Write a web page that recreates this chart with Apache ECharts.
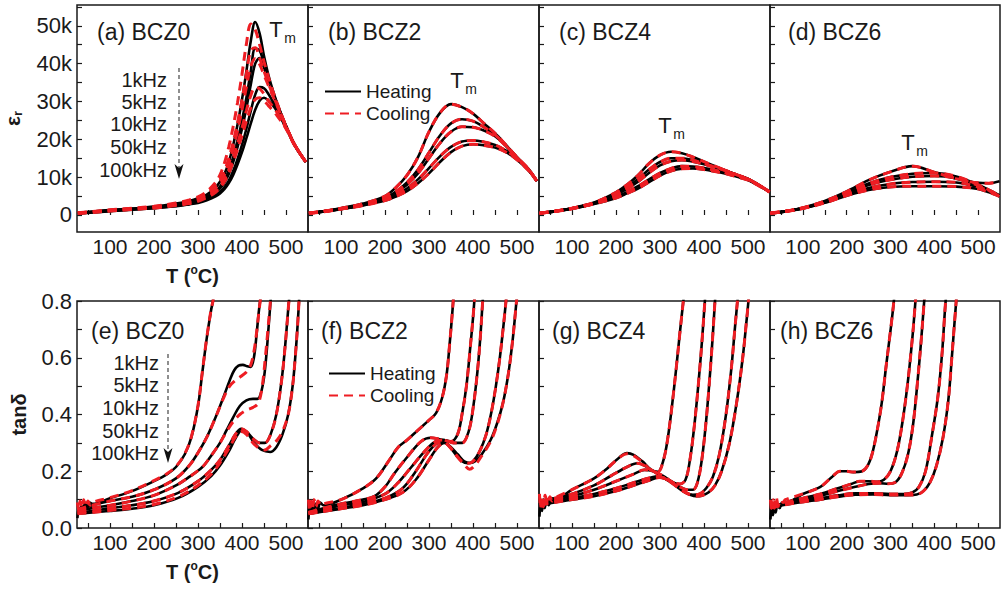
<!DOCTYPE html>
<html>
<head>
<meta charset="utf-8">
<script src="https://cdn.jsdelivr.net/npm/echarts@6.0.0/dist/echarts.min.js"></script>
<style>
html,body{margin:0;padding:0;background:#fff}
#chart{width:1001px;height:594px}
</style>
</head>
<body>
<div id="chart"></div>
<script>
// ---- permittivity (eps_r, in thousands) : shared temperature grid per panel ----
var tA = [27,60,100,150,200,250,280,300,320,340,350,360,370,380,390,400,410,420,430,440,450,460,470,480,500,520,545];
var aH1k   = [0.6,0.9,1.3,1.7,2.2,3.0,3.7,4.4,5.4,7.3,8.8,10.8,14,18.5,24,30.5,38,46,51,48,42,37,33,29.5,23.5,18.5,14];
var aH5k   = [0.5,0.8,1.2,1.6,2.0,2.7,3.3,3.9,4.8,6.3,7.5,9.2,11.8,15.3,19.8,25,31,38,44,43.5,40,36,32.5,29.3,23.5,18.5,14];
var aH10k  = [0.5,0.8,1.15,1.55,1.95,2.6,3.2,3.7,4.5,5.9,7.0,8.5,10.8,14,18,22.8,28.3,34.5,40,41.5,39,35.5,32.2,29.2,23.5,18.5,14];
var aH50k  = [0.4,0.7,1.05,1.45,1.85,2.4,2.9,3.4,4.1,5.2,6.1,7.3,9.1,11.6,14.8,18.5,22.8,27.5,31.8,33.8,33.5,32,30,28,23.2,18.4,14];
var aH100k = [0.4,0.65,1.0,1.4,1.8,2.3,2.8,3.2,3.9,4.9,5.7,6.8,8.4,10.6,13.4,16.6,20.3,24.2,27.8,30.2,31,30.3,29,27.3,23,18.3,14];
var aC1k   = [0.6,0.9,1.35,1.8,2.3,3.2,4.0,4.8,6.2,8.6,10.6,13.7,18,23.4,29.8,37.2,45.2,50.5,49,45,40.5,36.5,32.8,29.5,23.5,18.5,14];
var aC5k   = [0.5,0.85,1.25,1.65,2.1,2.9,3.7,4.6,5.7,7.8,9.3,11.6,15,19.3,24.5,30.4,37.3,43.5,44.2,41.5,38,34.8,31.8,29,23.5,18.5,14];
var aC10k  = [0.5,0.8,1.2,1.6,2.0,2.8,3.5,4.3,5.4,7.2,8.6,10.6,13.6,17.6,22.3,27.8,33.8,39.3,41.3,39.8,37,34.2,31.5,28.8,23.4,18.5,14];
var aC50k  = [0.45,0.75,1.1,1.5,1.9,2.6,3.2,3.9,4.9,6.4,7.7,9.4,11.9,15.2,18.9,23,27.6,31.6,33.7,33.4,32,30.2,28.6,27,23,18.4,14];
var aC100k = [0.4,0.7,1.05,1.45,1.85,2.5,3.0,3.6,4.6,6.0,7.2,8.8,11,14,17.3,21,24.8,28.3,30.5,31,30.2,28.9,27.6,26.2,22.8,18.3,14];

var tB = [27,60,100,150,200,225,250,275,300,325,350,375,400,425,450,475,500,525,545];
var bH1k   = [0.5,1.0,1.8,3.0,5.0,7.3,10.5,15.3,22,27,29.3,28.5,26.8,24.2,21.6,18.5,15.3,12.3,9];
var bH5k   = [0.5,0.95,1.7,2.8,4.5,6.2,8.6,12,16.5,21,24.2,25.3,24.8,23.2,21.2,18.3,15.2,12.2,9];
var bH10k  = [0.45,0.9,1.65,2.7,4.3,5.9,8.0,11,15,19,22,23.3,23.2,22.3,20.8,18.2,15.1,12.2,9];
var bH50k  = [0.45,0.9,1.6,2.6,4.0,5.3,7.0,9.4,12.4,15.5,18,19.4,19.7,19.3,18.5,17,14.8,12,9];
var bH100k = [0.45,0.85,1.55,2.5,3.8,4.9,6.3,8.4,11,14,16.6,18.2,18.7,18.4,17.8,16.6,14.6,11.9,9];

var tC = [26,60,100,150,200,225,250,275,300,325,350,375,400,425,450,475,500,525,549];
var cH1k   = [0.45,1.0,1.8,3.3,6.0,8.0,10.5,13.6,15.8,16.7,16.3,15.3,14.1,12.9,11.7,10.6,9.5,7.9,6.1];
var cH5k   = [0.45,1.0,1.75,3.2,5.6,7.3,9.5,12.0,14.0,15.0,15.0,14.5,13.6,12.7,11.7,10.6,9.5,7.9,6.1];
var cH10k  = [0.45,0.95,1.7,3.1,5.3,6.9,8.8,11.1,13.1,14.2,14.5,14.1,13.4,12.6,11.7,10.6,9.5,7.9,6.1];
var cH50k  = [0.45,0.95,1.7,3.0,4.8,6.1,7.6,9.4,11.1,12.3,12.9,12.8,12.4,11.8,11.1,10.3,9.3,7.8,6.1];
var cH100k = [0.45,0.9,1.65,2.9,4.5,5.7,7.0,8.7,10.4,11.6,12.2,12.3,12.0,11.5,10.9,10.1,9.2,7.7,6.1];

var tD = [26,60,100,150,200,250,300,350,400,450,500,525,549];
var dH1k   = [0.45,1.0,1.9,3.7,6.2,9.2,11.4,12.9,11.3,9.6,8.5,8.4,8.9];
var dH5k   = [0.45,1.0,1.85,3.5,5.8,8.3,10.0,10.9,11.1,10.2,8.0,6.6,5.2];
var dH10k  = [0.45,0.95,1.8,3.4,5.6,7.9,9.3,10.1,10.3,9.7,7.8,6.5,5.1];
var dH50k  = [0.45,0.95,1.75,3.3,5.3,7.1,8.2,8.7,8.8,8.6,7.4,6.3,5.0];
var dH100k = [0.45,0.9,1.7,3.2,5.1,6.6,7.4,7.6,7.6,7.5,6.9,6.0,4.9];

// ---- loss tangent : [T, tan d] per curve ----
var eH1k = [[26,0.035],[29,0.07],[32,0.05],[35,0.08],[39,0.06],[43,0.09],[48,0.07],[54,0.09],[60,0.085],[100,0.105],[150,0.13],[200,0.165],[230,0.19],[250,0.215],[270,0.26],[285,0.32],[300,0.43],[310,0.55],[320,0.67],[330,0.77],[334,0.8],[340,0.88]];
var eC1k = [[26,0.09],[29,0.06],[32,0.095],[36,0.07],[40,0.1],[45,0.075],[50,0.095],[55,0.08],[60,0.09],[100,0.107],[150,0.132],[200,0.167],[230,0.192],[250,0.217],[270,0.262],[285,0.322],[300,0.432],[310,0.552],[320,0.672],[330,0.772],[334,0.8],[340,0.88]];
var eH5k = [[26,0.065],[60,0.08],[100,0.095],[150,0.11],[200,0.135],[250,0.175],[280,0.22],[300,0.265],[320,0.32],[340,0.39],[360,0.47],[372,0.52],[382,0.555],[392,0.572],[402,0.575],[412,0.57],[420,0.568],[427,0.6],[433,0.68],[438,0.76],[443,0.82]];
var eC5k = [[26,0.065],[60,0.08],[100,0.095],[150,0.11],[200,0.135],[250,0.175],[280,0.22],[300,0.265],[320,0.32],[340,0.39],[360,0.465],[372,0.5],[385,0.52],[398,0.535],[410,0.55],[420,0.575],[428,0.63],[434,0.7],[439,0.77],[443,0.82]];
var eH10k = [[26,0.06],[60,0.07],[100,0.08],[150,0.095],[200,0.115],[250,0.15],[280,0.18],[310,0.215],[330,0.255],[350,0.3],[365,0.345],[380,0.39],[395,0.43],[410,0.45],[425,0.455],[435,0.455],[442,0.47],[450,0.53],[456,0.62],[461,0.72],[465,0.8],[468,0.86]];
var eC10k = [[26,0.06],[60,0.07],[100,0.08],[150,0.095],[200,0.115],[250,0.15],[280,0.18],[310,0.215],[330,0.255],[350,0.3],[365,0.34],[380,0.375],[395,0.4],[410,0.415],[425,0.425],[437,0.44],[446,0.5],[453,0.6],[459,0.7],[464,0.79],[468,0.86]];
var eH50k = [[26,0.055],[60,0.06],[100,0.07],[150,0.08],[200,0.095],[255,0.124],[300,0.165],[330,0.205],[350,0.24],[370,0.29],[385,0.33],[398,0.35],[410,0.34],[425,0.315],[440,0.3],[452,0.3],[465,0.33],[478,0.4],[490,0.52],[498,0.64],[505,0.77],[509,0.84]];
var eH100k = [[26,0.05],[60,0.055],[100,0.06],[150,0.068],[200,0.08],[255,0.106],[300,0.145],[330,0.183],[350,0.22],[370,0.27],[385,0.315],[400,0.345],[412,0.335],[428,0.3],[445,0.275],[464,0.268],[478,0.285],[492,0.33],[505,0.4],[515,0.5],[522,0.62],[527,0.73],[531,0.84]];
var eC100k = [[26,0.05],[60,0.055],[100,0.062],[150,0.07],[200,0.083],[255,0.11],[300,0.15],[330,0.19],[350,0.23],[370,0.28],[385,0.32],[398,0.34],[410,0.33],[425,0.3],[440,0.28],[452,0.275],[465,0.29],[480,0.31],[492,0.34],[505,0.4],[515,0.5],[522,0.62],[527,0.73],[531,0.84]];

var fH1k = [[26,0.03],[29,0.08],[32,0.05],[35,0.09],[38,0.06],[42,0.085],[47,0.065],[53,0.09],[60,0.08],[100,0.1],[150,0.14],[180,0.175],[210,0.24],[230,0.285],[250,0.31],[275,0.345],[300,0.38],[316,0.405],[330,0.46],[340,0.54],[347,0.65],[352,0.74],[356,0.82]];
var fC1k = [[26,0.1],[29,0.06],[32,0.095],[35,0.07],[39,0.1],[43,0.075],[48,0.095],[54,0.08],[60,0.085],[100,0.1],[150,0.14],[180,0.175],[210,0.24],[230,0.285],[250,0.31],[275,0.345],[300,0.38],[316,0.405],[330,0.46],[340,0.54],[347,0.65],[352,0.74],[356,0.82]];
var fH5k = [[26,0.055],[60,0.07],[100,0.085],[150,0.1],[176,0.112],[200,0.145],[222,0.194],[252,0.253],[282,0.305],[304,0.318],[327,0.312],[350,0.305],[365,0.33],[375,0.4],[385,0.5],[394,0.64],[400,0.74],[404,0.82]];
var fH10k = [[26,0.055],[60,0.065],[100,0.08],[150,0.092],[200,0.12],[230,0.16],[260,0.215],[290,0.27],[315,0.305],[335,0.31],[355,0.3],[375,0.3],[390,0.34],[400,0.42],[410,0.55],[417,0.68],[422,0.8],[425,0.86]];
var fH50k = [[26,0.05],[60,0.06],[100,0.07],[150,0.085],[200,0.105],[240,0.14],[270,0.2],[295,0.26],[315,0.295],[330,0.305],[345,0.29],[360,0.26],[375,0.235],[388,0.228],[400,0.235],[415,0.27],[430,0.33],[442,0.41],[452,0.5],[461,0.6],[469,0.71],[475,0.8],[478,0.85]];
var fH100k = [[26,0.05],[60,0.058],[100,0.068],[150,0.08],[200,0.1],[240,0.125],[270,0.17],[300,0.24],[320,0.285],[335,0.3],[350,0.285],[365,0.26],[380,0.235],[393,0.229],[405,0.235],[420,0.26],[440,0.31],[455,0.37],[468,0.44],[480,0.54],[490,0.66],[497,0.77],[502,0.85]];
var fC100k = [[26,0.05],[60,0.058],[100,0.068],[150,0.08],[200,0.1],[240,0.125],[270,0.17],[300,0.24],[320,0.285],[335,0.3],[350,0.28],[365,0.25],[380,0.223],[392,0.207],[405,0.222],[420,0.255],[440,0.305],[455,0.365],[468,0.44],[480,0.54],[490,0.66],[497,0.77],[502,0.85]];

var gH1k = [[26,0.04],[29,0.09],[32,0.06],[35,0.1],[38,0.07],[42,0.1],[47,0.08],[53,0.105],[60,0.1],[100,0.135],[150,0.175],[180,0.21],[205,0.245],[225,0.264],[240,0.258],[260,0.235],[280,0.205],[295,0.198],[308,0.24],[318,0.32],[328,0.44],[338,0.58],[346,0.7],[353,0.8],[357,0.86]];
var gC1k = [[26,0.12],[29,0.07],[32,0.11],[35,0.075],[39,0.115],[44,0.085],[50,0.11],[55,0.095],[60,0.105],[100,0.135],[150,0.175],[180,0.21],[205,0.245],[225,0.262],[240,0.255],[260,0.232],[280,0.203],[295,0.197],[308,0.24],[318,0.32],[328,0.44],[338,0.58],[346,0.7],[353,0.8],[357,0.86]];
var gH5k = [[26,0.095],[60,0.105],[100,0.12],[150,0.15],[190,0.185],[225,0.215],[248,0.228],[265,0.22],[285,0.2],[305,0.18],[325,0.163],[345,0.155],[358,0.17],[368,0.24],[378,0.36],[388,0.52],[396,0.67],[402,0.8],[405,0.86]];
var gH10k = [[26,0.09],[60,0.1],[100,0.112],[150,0.135],[200,0.165],[240,0.19],[265,0.205],[285,0.2],[305,0.185],[325,0.165],[345,0.145],[362,0.135],[375,0.135],[385,0.16],[395,0.24],[405,0.38],[414,0.55],[420,0.68],[425,0.8],[428,0.86]];
var gH50k = [[26,0.085],[60,0.095],[100,0.105],[150,0.12],[200,0.14],[250,0.165],[280,0.178],[295,0.182],[310,0.175],[330,0.155],[350,0.132],[365,0.12],[375,0.117],[390,0.12],[405,0.14],[420,0.18],[435,0.26],[450,0.4],[462,0.56],[470,0.7],[476,0.8],[479,0.86]];
var gH100k = [[26,0.08],[60,0.09],[100,0.1],[150,0.112],[200,0.13],[250,0.155],[280,0.17],[298,0.178],[315,0.172],[335,0.152],[355,0.128],[370,0.116],[382,0.112],[395,0.114],[410,0.125],[425,0.15],[440,0.2],[458,0.3],[475,0.45],[488,0.6],[496,0.72],[501,0.8],[504,0.86]];

var hH1k = [[26,0.03],[29,0.07],[32,0.045],[35,0.08],[38,0.055],[42,0.085],[47,0.07],[53,0.09],[60,0.09],[100,0.12],[140,0.145],[165,0.178],[185,0.2],[200,0.2],[215,0.197],[235,0.2],[248,0.22],[258,0.26],[268,0.33],[280,0.44],[290,0.57],[298,0.67],[305,0.76],[309,0.82]];
var hC1k = [[26,0.1],[29,0.06],[32,0.1],[35,0.07],[39,0.11],[44,0.08],[50,0.1],[55,0.09],[60,0.1],[100,0.12],[140,0.145],[165,0.178],[185,0.2],[200,0.2],[215,0.197],[235,0.2],[248,0.22],[258,0.26],[268,0.33],[280,0.44],[290,0.57],[298,0.67],[305,0.76],[309,0.82]];
var hH5k = [[26,0.07],[60,0.09],[100,0.105],[140,0.12],[180,0.14],[210,0.155],[230,0.165],[250,0.165],[270,0.163],[285,0.17],[300,0.2],[315,0.27],[328,0.38],[340,0.52],[350,0.67],[356,0.78],[359,0.84]];
var hH10k = [[26,0.07],[60,0.088],[100,0.1],[140,0.113],[180,0.13],[220,0.145],[250,0.155],[275,0.158],[295,0.156],[310,0.16],[325,0.19],[340,0.26],[352,0.37],[362,0.52],[370,0.66],[376,0.78],[379,0.84]];
var hH50k = [[26,0.07],[60,0.085],[100,0.095],[140,0.105],[180,0.115],[220,0.122],[260,0.122],[300,0.12],[330,0.12],[350,0.125],[365,0.145],[380,0.2],[394,0.32],[408,0.46],[418,0.62],[424,0.76],[428,0.84]];
var hH100k = [[26,0.07],[60,0.082],[100,0.092],[140,0.1],[180,0.11],[220,0.117],[260,0.118],[300,0.116],[340,0.116],[360,0.118],[375,0.13],[390,0.16],[405,0.22],[420,0.32],[432,0.45],[440,0.6],[446,0.72],[450,0.8],[452,0.85]];

var FONT = '"Liberation Sans", Arial, sans-serif';
var INK = '#1a1a1a';
var RED = '#ee1d23';

function zip(t, v) {
    return t.map(function (x, i) { return [x, v[i]]; });
}

// panels in reading order a..h ; cooling traces sit on the heating ones where the picture shows no gap
var panels = [
    {H: [aH1k, aH5k, aH10k, aH50k, aH100k].map(function (v) { return zip(tA, v); }),
     C: [aC1k, aC5k, aC10k, aC50k, aC100k].map(function (v) { return zip(tA, v); })},
    {H: [bH1k, bH5k, bH10k, bH50k, bH100k].map(function (v) { return zip(tB, v); })},
    {H: [cH1k, cH5k, cH10k, cH50k, cH100k].map(function (v) { return zip(tC, v); })},
    {H: [dH1k, dH5k, dH10k, dH50k, dH100k].map(function (v) { return zip(tD, v); })},
    {H: [eH1k, eH5k, eH10k, eH50k, eH100k], C: [eC1k, eC5k, eC10k, eH50k, eC100k]},
    {H: [fH1k, fH5k, fH10k, fH50k, fH100k], C: [fC1k, fH5k, fH10k, fH50k, fC100k]},
    {H: [gH1k, gH5k, gH10k, gH50k, gH100k], C: [gC1k, gH5k, gH10k, gH50k, gH100k]},
    {H: [hH1k, hH5k, hH10k, hH50k, hH100k], C: [hC1k, hH5k, hH10k, hH50k, hH100k]}
];

var lefts = [77, 308, 539, 770];
var grids = [], xAxes = [], yAxes = [], series = [], cooling = [];

for (var i = 0; i < 8; i++) {
    var row = i < 4 ? 0 : 1, col = i % 4;
    grids.push({
        left: lefts[col], top: row ? 301 : 5, width: col === 3 ? 230 : 231, height: 227,
        show: true, borderColor: INK, borderWidth: 1.5
    });
    var xa = {
        gridIndex: i, type: 'value', min: 25, max: 550,
        axisLine: {show: false}, splitLine: {show: false},
        axisTick: {inside: true, length: 5, lineStyle: {color: INK, width: 1.2},
                   customValues: [50, 100, 150, 200, 250, 300, 350, 400, 450, 500]},
        axisLabel: {customValues: [100, 200, 300, 400, 500], fontSize: 21, color: INK,
                    fontFamily: FONT, margin: 4}
    };
    if (col === 0) {
        xa.name = '{a|T (}{s|o}{a|C)}';
        xa.nameLocation = 'middle';
        xa.nameGap = 32;
        xa.nameTextStyle = {rich: {
            a: {fontSize: 20, fontWeight: 'bold', fontFamily: FONT, color: INK, lineHeight: 24},
            s: {fontSize: 12, fontWeight: 'bold', fontFamily: FONT, color: INK, lineHeight: 12, verticalAlign: 'top'}
        }};
    }
    xAxes.push(xa);

    var ya = {
        gridIndex: i, type: 'value',
        axisLine: {show: false}, splitLine: {show: false},
        axisTick: {inside: true, length: 5, lineStyle: {color: INK, width: 1.2}},
        axisLabel: {show: col === 0, fontSize: 22, color: INK, fontFamily: FONT, margin: 5}
    };
    if (row === 0) {
        ya.min = -4.5; ya.max = 55.5;
        ya.axisTick.customValues = [0, 5, 10, 15, 20, 25, 30, 35, 40, 45, 50, 55];
        ya.axisLabel.customValues = [0, 10, 20, 30, 40, 50];
        ya.axisLabel.formatter = function (v) { return v === 0 ? '0' : v + 'k'; };
        if (col === 0) {
            ya.name = '{e|ε}{r|r}';
            ya.nameLocation = 'middle';
            ya.nameGap = 53;
            ya.nameTextStyle = {rich: {
                e: {fontSize: 21, fontWeight: 'bold', fontFamily: FONT, color: INK, lineHeight: 24},
                r: {fontSize: 13, fontWeight: 'bold', fontFamily: FONT, color: INK, lineHeight: 12, verticalAlign: 'bottom'}
            }};
        }
    } else {
        ya.min = 0; ya.max = 0.8;
        ya.axisTick.customValues = [0, 0.1, 0.2, 0.3, 0.4, 0.5, 0.6, 0.7, 0.8];
        ya.axisLabel.customValues = [0, 0.2, 0.4, 0.6, 0.8];
        ya.axisLabel.formatter = function (v) { return v.toFixed(1); };
        if (col === 0) {
            ya.name = 'tanδ';
            ya.nameLocation = 'middle';
            ya.nameGap = 48;
            ya.nameTextStyle = {fontSize: 20, fontWeight: 'bold', fontFamily: FONT, color: INK};
        }
    }
    yAxes.push(ya);

    var p = panels[i];
    var cool = p.C || p.H;
    for (var k = 0; k < 5; k++) {
        series.push({
            type: 'line', name: 'Heating', xAxisIndex: i, yAxisIndex: i,
            data: p.H[k], smooth: 0.35, symbol: 'none', silent: true, z: 2,
            lineStyle: {color: '#000', width: 2.6}, itemStyle: {color: '#000'}
        });
        cooling.push({
            type: 'line', name: 'Cooling', xAxisIndex: i, yAxisIndex: i,
            data: cool[k], smooth: 0.35, symbol: 'none', silent: true, z: 3,
            lineStyle: {color: RED, width: 3, type: [9, 6]}, itemStyle: {color: RED}
        });
    }
}
series = series.concat(cooling);

function txt(x, y, s, size, align) {
    return {type: 'text', x: x, y: y, silent: true,
            style: {text: s, fontSize: size, fontFamily: FONT, fill: INK,
                    align: align || 'left', verticalAlign: 'middle'}};
}

var freqs = ['1kHz', '5kHz', '10kHz', '50kHz', '100kHz'];
var graphic = [];
// panel titles
[['(a) BCZ0', 97, 32], ['(b) BCZ2', 328, 32], ['(c) BCZ4', 559, 32], ['(d) BCZ6', 788, 32],
 ['(e) BCZ0', 91, 331], ['(f) BCZ2', 321, 331], ['(g) BCZ4', 552, 331], ['(h) BCZ6', 780, 331]]
    .forEach(function (d) { graphic.push(txt(d[1], d[2], d[0], 23)); });
// T_m marks
[[276, 29], [457, 80], [665, 125], [908, 142]].forEach(function (d) {
    graphic.push(txt(d[0], d[1], 'T', 22, 'center'));
    graphic.push(txt(d[0] + 14, d[1] + 9, 'm', 14, 'center'));
});
// frequency lists with dashed arrow
var fy1 = [80, 102, 124, 147, 170], fy2 = [363, 385, 408, 431, 453];
freqs.forEach(function (f, j) {
    graphic.push(txt(167, fy1[j], f, 20, 'right'));
    graphic.push(txt(159, fy2[j], f, 20, 'right'));
});
graphic.push({type: 'line', silent: true, shape: {x1: 179, y1: 68, x2: 179, y2: 170},
              style: {stroke: '#333', lineWidth: 1.1, lineDash: [4, 3]}});
graphic.push({type: 'polygon', silent: true, shape: {points: [[174.5, 164], [179, 168], [183.5, 164], [179, 179]]},
              style: {fill: '#111'}});
graphic.push({type: 'line', silent: true, shape: {x1: 168, y1: 354, x2: 168, y2: 454},
              style: {stroke: '#333', lineWidth: 1.1, lineDash: [4, 3]}});
graphic.push({type: 'polygon', silent: true, shape: {points: [[163.5, 448], [168, 452], [172.5, 448], [168, 463]]},
              style: {fill: '#111'}});

function legendAt(left, top) {
    return {
        data: ['Heating', 'Cooling'], orient: 'vertical', left: left, top: top,
        itemWidth: 36, itemHeight: 20, itemGap: 3, selectedMode: false,
        itemStyle: {opacity: 0},
        textStyle: {fontSize: 19, color: INK, fontFamily: FONT}
    };
}

var chart = echarts.init(document.getElementById('chart'), null, {renderer: 'svg'});
chart.setOption({
    animation: false,
    backgroundColor: '#fff',
    grid: grids,
    xAxis: xAxes,
    yAxis: yAxes,
    legend: [legendAt(319, 77), legendAt(323, 359)],
    graphic: graphic,
    series: series
});
</script>
</body>
</html>
